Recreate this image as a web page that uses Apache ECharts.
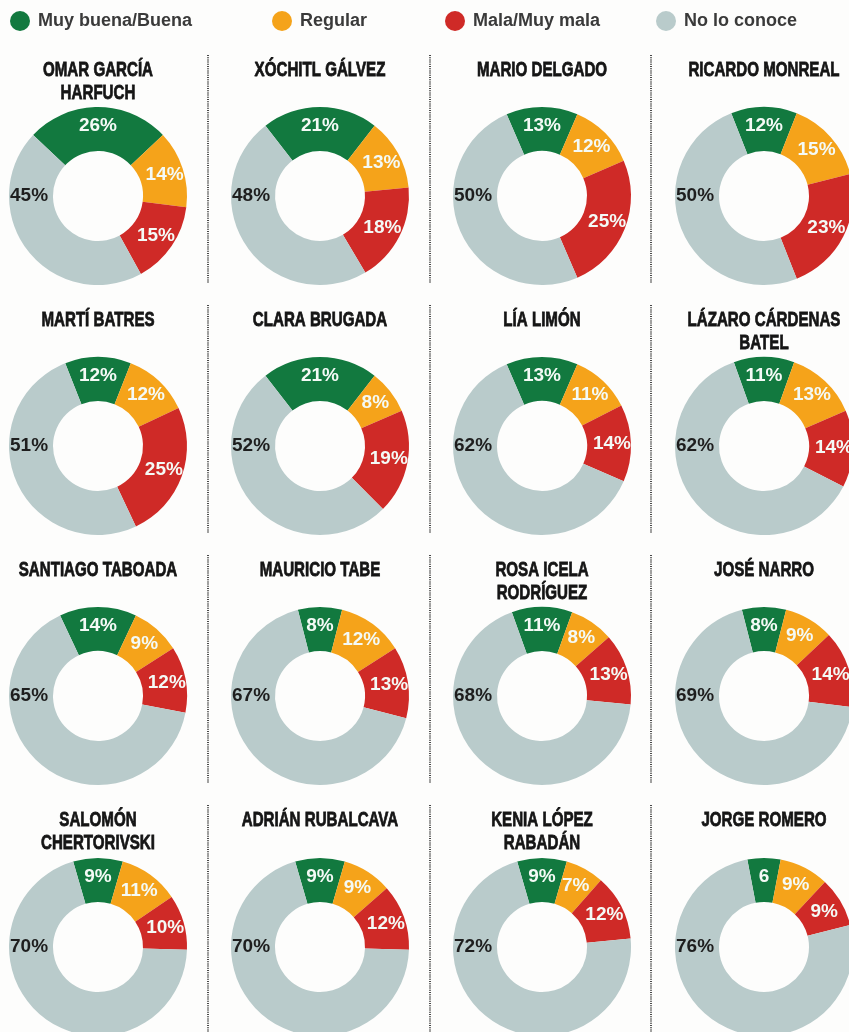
<!DOCTYPE html>
<html>
<head>
<meta charset="utf-8">
<script src="https://cdn.jsdelivr.net/npm/echarts@6/dist/echarts.min.js"></script>
<style>
  html, body { margin: 0; padding: 0; background: #fdfdfc; }
  #chart { width: 849px; height: 1032px; }
</style>
</head>
<body>
<div id="chart"></div>
<script>
// Categories (legend) and candidates
const categories = ['Muy buena/Buena', 'Regular', 'Mala/Muy mala', 'No lo conoce'];
const candidates = [
  'OMAR GARCÍA\nHARFUCH', 'XÓCHITL GÁLVEZ', 'MARIO DELGADO', 'RICARDO MONREAL',
  'MARTÍ BATRES', 'CLARA BRUGADA', 'LÍA LIMÓN', 'LÁZARO CÁRDENAS\nBATEL',
  'SANTIAGO TABOADA', 'MAURICIO TABE', 'ROSA ICELA\nRODRÍGUEZ', 'JOSÉ NARRO',
  'SALOMÓN\nCHERTORIVSKI', 'ADRIÁN RUBALCAVA', 'KENIA LÓPEZ\nRABADÁN', 'JORGE ROMERO'
];

// Percentages per candidate
const good    = [26, 21, 13, 12, 12, 21, 13, 11, 14, 8, 11, 8, 9, 9, 9, 6];
const regular = [14, 13, 12, 15, 12, 8, 11, 13, 9, 12, 8, 9, 11, 9, 7, 9];
const bad     = [15, 18, 25, 23, 25, 19, 14, 14, 12, 13, 13, 14, 10, 12, 12, 9];
const unknown = [45, 48, 50, 50, 51, 52, 62, 62, 65, 67, 68, 69, 70, 70, 72, 76];

// the printed graphic cut one label short
const labelOverrides = { '15-0': '6' };

const colors = ['#12793f', '#f5a31a', '#cf2a27', '#b9cbcb'];

// layout
const colX = [98, 320, 542, 764];
const rowY = [196, 446, 696, 947];
const R_IN = 45, R_OUT = 89;
const sepX = [208, 430, 651];

const chart = echarts.init(document.getElementById('chart'));

// titles as condensed text (no narrow font installed, so squeeze horizontally)
const titleTexts = candidates.map((name, i) => ({
  type: 'text',
  silent: true,
  x: colX[i % 4],
  y: 59 + 250 * Math.floor(i / 4),
  scaleX: 0.72,
  style: {
    text: name,
    textAlign: 'center',
    textVerticalAlign: 'top',
    font: 'bold 21px "Liberation Sans", Arial, sans-serif',
    lineHeight: 23,
    fill: '#151515',
    stroke: '#151515',
    lineWidth: 0.8
  }
}));

const series = candidates.map((name, i) => {
  const col = i % 4, row = Math.floor(i / 4);
  return {
    type: 'pie',
    name: name.replace('\n', ' '),
    center: [colX[col], rowY[row]],
    radius: [R_IN, R_OUT],
    startAngle: 90 + good[i] * 3.6 / 2,
    clockwise: true,
    silent: true,
    color: colors,
    itemStyle: { borderWidth: 0 },
    label: {
      show: true,
      position: 'inside',
      fontFamily: '"Liberation Sans", Arial, sans-serif',
      fontWeight: 'bold',
      fontSize: 19,
      color: '#f4faf6',
      formatter: p => labelOverrides[i + '-' + p.dataIndex] || (p.value + '%')
    },
    labelLayout: p => {
      if (p.dataIndex !== 3) return {};
      return {
        x: colX[col] - R_OUT + 1,
        y: rowY[row],
        align: 'left',
        verticalAlign: 'middle'
      };
    },
    labelLine: { show: false },
    data: [
      { name: categories[0], value: good[i] },
      { name: categories[1], value: regular[i] },
      { name: categories[2], value: bad[i] },
      { name: categories[3], value: unknown[i], label: { color: '#1e1e1e' } }
    ]
  };
});

const legendLeft = [10, 272, 445, 656];
const legends = categories.map((c, k) => ({
  data: [c],
  left: legendLeft[k],
  top: 11,
  icon: 'circle',
  itemWidth: 20,
  itemHeight: 20,
  itemGap: 0,
  selectedMode: false,
  padding: 0,
  textStyle: {
    fontFamily: '"Liberation Sans", Arial, sans-serif',
    fontWeight: 'bold',
    fontSize: 18,
    color: '#3a3a3a',
    padding: [0, 0, 0, 3]
  }
}));

// dotted column separators, one per row block
const separators = [];
for (let r = 0; r < 4; r++) {
  sepX.forEach(x => {
    separators.push({
      type: 'line',
      silent: true,
      shape: { x1: x, y1: 55 + 250 * r, x2: x, y2: Math.min(283 + 250 * r, 1032) },
      style: { stroke: '#333333', lineWidth: 1.8, lineDash: [1, 1.2] }
    });
  });
}

chart.setOption({
  backgroundColor: '#fdfdfc',
  animation: false,
  legend: legends,
  graphic: separators.concat(titleTexts),
  series: series
});
</script>
</body>
</html>
